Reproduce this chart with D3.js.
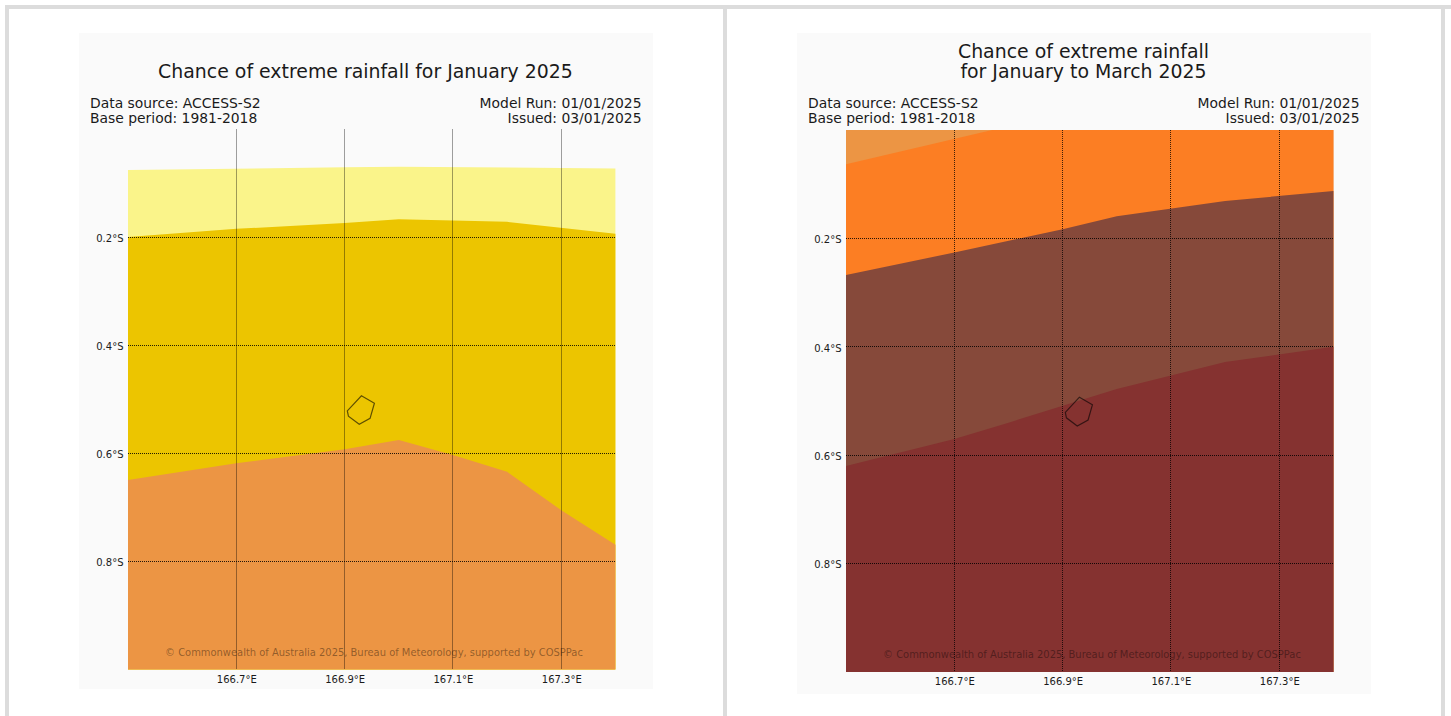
<!DOCTYPE html>
<html>
<head>
<meta charset="utf-8">
<script src="https://cdn.jsdelivr.net/npm/d3@7"></script>
<style>
  html, body { margin: 0; padding: 0; background: #fff; overflow: hidden; }
  svg { display: block; }
  text { font-family: "DejaVu Sans", sans-serif; fill: #1a1a1a; }
</style>
</head>
<body>
<div id="chart"></div>
<script>
var lonTicks = [166.7, 166.9, 167.1, 167.3];
var latTicks = [0.2, 0.4, 0.6, 0.8];

// Nauru outline
var islandLon = [166.931, 166.955, 166.947, 166.927, 166.907, 166.905];
var islandLat = [0.493, 0.507, 0.535, 0.546, 0.531, 0.521];

// January: upper edge of each band, degrees south
var janPaleLon = [166.5, 166.9, 167.0, 167.4];
var janPaleLat = [0.075, 0.070, 0.069, 0.072];
var janYellowLon = [166.5, 166.7, 166.9, 167.0, 167.2, 167.4];
var janYellowLat = [0.199, 0.184, 0.173, 0.166, 0.171, 0.193];
var janOrangeLon = [166.5, 166.7, 166.9, 167.0, 167.1, 167.2, 167.3, 167.4];
var janOrangeLat = [0.649, 0.618, 0.592, 0.575, 0.603, 0.634, 0.705, 0.769];

// January to March
var seasonTanLon = [166.5, 167.4];
var seasonTanLat = [0, 0];
var seasonOrangeLon = [166.5, 166.77, 167.4];
var seasonOrangeLat = [0.063, 0, 0];
var seasonBrownLon = [166.5, 166.7, 166.9, 167.0, 167.2, 167.4];
var seasonBrownLat = [0.2675, 0.226, 0.183, 0.159, 0.131, 0.1125];
var seasonRedLon = [166.5, 166.7, 166.8, 167.0, 167.2, 167.4];
var seasonRedLat = [0.62, 0.57, 0.54, 0.478, 0.428, 0.4];

var bandColors = {
  pale: "#faf48a", yellow: "#ecc500", tan: "#ec9544",
  orange: "#fc7e23", brown: "#86493a", red: "#853230"
};

var panels = [
  {
    card: [79, 33, 574, 656], plot: [128, 129.5, 487.4, 540],
    title: ["Chance of extreme rainfall for January 2025"], titleY: [78],
    bands: [
      { lon: janPaleLon, lat: janPaleLat, color: bandColors.pale },
      { lon: janYellowLon, lat: janYellowLat, color: bandColors.yellow },
      { lon: janOrangeLon, lat: janOrangeLat, color: bandColors.tan }
    ]
  },
  {
    card: [797, 33, 574, 661], plot: [846, 130, 487.4, 542],
    title: ["Chance of extreme rainfall", "for January to March 2025"], titleY: [58, 78],
    bands: [
      { lon: seasonTanLon, lat: seasonTanLat, color: bandColors.tan },
      { lon: seasonOrangeLon, lat: seasonOrangeLat, color: bandColors.orange },
      { lon: seasonBrownLon, lat: seasonBrownLat, color: bandColors.brown },
      { lon: seasonRedLon, lat: seasonRedLat, color: bandColors.red }
    ]
  }
];

var svg = d3.select("#chart").append("svg")
  .attr("width", 1451)
  .attr("height", 716);

// frame around the two images
svg.append("rect").attr("x", 5).attr("y", 5).attr("width", 1451).attr("height", 4).attr("fill", "#dcdcdc");
[5, 723, 1441].forEach(function(x) {
  svg.append("rect").attr("x", x).attr("y", 5).attr("width", 4).attr("height", 711).attr("fill", "#dcdcdc");
});

// keep the 1px dotted lines on whole pixels
function snap(v) {
  return Math.floor(v) + 0.5;
}

panels.forEach(function(p) {
  var g = svg.append("g");

  g.append("rect")
    .attr("x", p.card[0]).attr("y", p.card[1])
    .attr("width", p.card[2]).attr("height", p.card[3])
    .attr("fill", "#fafafa");

  var x = d3.scaleLinear().domain([166.5, 167.4]).range([p.plot[0], p.plot[0] + p.plot[2]]);
  var y = d3.scaleLinear().domain([0, 1]).range([p.plot[1], p.plot[1] + p.plot[3]]);

  // each band is painted from its upper edge to the bottom, later ones on top
  p.bands.forEach(function(b) {
    var area = d3.area()
      .x(function(d) { return x(d[0]); })
      .y0(y(1))
      .y1(function(d) { return y(d[1]); });
    g.append("path")
      .attr("d", area(d3.zip(b.lon, b.lat)))
      .attr("fill", b.color);
  });

  var line = d3.line()
    .x(function(d) { return x(d[0]); })
    .y(function(d) { return y(d[1]); });

  g.append("path")
    .attr("d", line(d3.zip(islandLon, islandLat)) + "Z")
    .attr("fill", "none")
    .attr("stroke", "#000")
    .attr("stroke-opacity", 0.6)
    .attr("stroke-width", 1.2);

  lonTicks.forEach(function(t) {
    g.append("line")
      .attr("x1", snap(x(t))).attr("x2", snap(x(t)))
      .attr("y1", y(0)).attr("y2", y(1))
      .attr("stroke", "#000").attr("stroke-opacity", 0.75)
      .attr("stroke-dasharray", "1,1");
  });
  latTicks.forEach(function(t) {
    g.append("line")
      .attr("x1", x.range()[0]).attr("x2", x.range()[1])
      .attr("y1", snap(y(t))).attr("y2", snap(y(t)))
      .attr("stroke", "#000").attr("stroke-opacity", 0.85)
      .attr("stroke-dasharray", "1,1");
  });

  var bottomAxis = d3.axisBottom(x)
    .tickValues(lonTicks)
    .tickSize(0)
    .tickPadding(6)
    .tickFormat(function(d) { return d.toFixed(1) + "°E"; });
  var leftAxis = d3.axisLeft(y)
    .tickValues(latTicks)
    .tickSize(0)
    .tickPadding(4.5)
    .tickFormat(function(d) { return d.toFixed(1) + "°S"; });

  var gx = g.append("g")
    .attr("transform", "translate(0," + y(1) + ")")
    .call(bottomAxis);
  var gy = g.append("g")
    .attr("transform", "translate(" + x.range()[0] + ",0)")
    .call(leftAxis);
  gy.selectAll("text").attr("dy", "0.42em");
  [gx, gy].forEach(function(a) {
    a.select(".domain").remove();
    a.selectAll("text").style("font-family", "DejaVu Sans").style("font-size", "10px");
  });

  var midX = p.card[0] + p.card[2] / 2 - 0.5;
  p.title.forEach(function(t, i) {
    g.append("text")
      .attr("x", midX).attr("y", p.titleY[i])
      .attr("text-anchor", "middle")
      .style("font-size", "18.9px")
      .text(t);
  });

  var leftX = p.card[0] + 11;
  var rightX = p.card[0] + p.card[2] - 11.5;
  var labelSize = "13.9px";
  g.append("text").attr("x", leftX).attr("y", 108).style("font-size", labelSize).text("Data source: ACCESS-S2");
  g.append("text").attr("x", leftX).attr("y", 123).style("font-size", labelSize).text("Base period: 1981-2018");
  g.append("text").attr("x", rightX).attr("y", 108).attr("text-anchor", "end").style("font-size", labelSize).text("Model Run: 01/01/2025");
  g.append("text").attr("x", rightX).attr("y", 123).attr("text-anchor", "end").style("font-size", labelSize).text("Issued: 03/01/2025");

  g.append("text")
    .attr("x", midX + 8.5).attr("y", y(1) - 14)
    .attr("text-anchor", "middle")
    .style("font-size", "9.93px")
    .style("fill", "#000")
    .style("fill-opacity", 0.4)
    .text("© Commonwealth of Australia 2025, Bureau of Meteorology, supported by COSPPac");
});
</script>
</body>
</html>
